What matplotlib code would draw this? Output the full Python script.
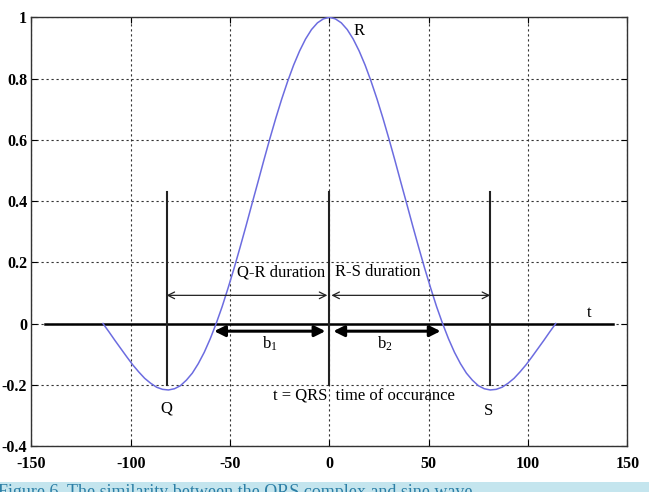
import matplotlib
matplotlib.use("Agg")
import matplotlib.pyplot as plt
from matplotlib.patches import Rectangle

plt.rcParams['font.family'] = ['Liberation Serif', 'DejaVu Serif']
plt.rcParams['mathtext.fontset'] = 'stix'
plt.rcParams['axes.unicode_minus'] = False

# QRS-like wave (right half, mirrored for the left)
t_half = [0, 3, 6, 9, 12, 15, 18, 21, 24, 27, 30, 33, 36, 39, 42, 45, 48, 51, 54,
          57, 60, 63, 66, 69, 72, 75, 78, 81, 84, 87, 90, 93, 96, 99, 102, 105,
          108, 111, 114]
amp_half = [1.0, 0.995, 0.982, 0.960, 0.929, 0.890, 0.844, 0.791, 0.733, 0.670,
            0.603, 0.533, 0.461, 0.390, 0.318, 0.248, 0.180, 0.116, 0.055, 0.0,
            -0.050, -0.094, -0.131, -0.162, -0.185, -0.203, -0.213, -0.217, -0.215,
            -0.208, -0.195, -0.179, -0.158, -0.135, -0.109, -0.082, -0.055, -0.027, 0.0]
t = [-v for v in t_half[:0:-1]] + t_half
amp = amp_half[:0:-1] + amp_half

q_t, r_t, s_t = -82, 0, 81
marker_top, marker_bottom = 0.43, -0.2
b1 = (-58, -2)
b2 = (2, 56)
t_axis = (-143, 143)

xticks = [-150, -100, -50, 0, 50, 100, 150]
yticks = [-0.4, -0.2, 0, 0.2, 0.4, 0.6, 0.8, 1]
ytick_labels = ['-0.4', '-0.2', '0', '0.2', '0.4', '0.6', '0.8', '1']

fig = plt.figure(figsize=(6.49, 4.92), dpi=100)
ax = fig.add_axes([0.0485, 0.0935, 0.918, 0.8713])

ax.grid(True, color='#333333', linestyle=(0, (2, 2.5)), linewidth=0.8)
ax.set_axisbelow(True)

# time axis
ax.plot(t_axis, [0, 0], color='black', lw=1.8, zorder=2)

# marker lines for Q, R, S
for pos in (q_t, r_t, s_t):
    ax.plot([pos, pos], [marker_bottom, marker_top], color='#222222', lw=1.5, zorder=2)

ax.plot(t, amp, color='#6c6ce0', lw=1.1, zorder=3)

# durations
thin = dict(arrowstyle='<->', lw=0.9, color='#222222', shrinkA=0, shrinkB=0, mutation_scale=12)
ax.annotate('', xy=(q_t, 0.092), xytext=(r_t - 1, 0.092), arrowprops=thin)
ax.annotate('', xy=(r_t + 1, 0.092), xytext=(s_t, 0.092), arrowprops=thin)

thick = dict(arrowstyle='<|-|>', lw=2.2, color='black', shrinkA=0, shrinkB=0, mutation_scale=16)
ax.annotate('', xy=(b1[0], -0.025), xytext=(b1[1], -0.025), arrowprops=thick)
ax.annotate('', xy=(b2[0], -0.025), xytext=(b2[1], -0.025), arrowprops=thick)

fs = 12
ax.text(15, 0.955, 'R', fontsize=fs, ha='center', va='center')
ax.text(q_t, -0.279, 'Q', fontsize=fs, ha='center', va='center')
ax.text(s_t - 1, -0.287, 'S', fontsize=fs, ha='center', va='center')
ax.text(131, 0.034, 't', fontsize=fs, ha='center', va='center')
ax.text(-24.5, 0.168, 'Q-R duration', fontsize=fs, ha='center', va='center')
ax.text(24.5, 0.168, 'R-S duration', fontsize=fs, ha='center', va='center')
ax.text(-30, -0.065, r'b$_\mathregular{1}$', fontsize=fs, ha='center', va='center')
ax.text(28, -0.066, r'b$_\mathregular{2}$', fontsize=fs, ha='center', va='center')
ax.text(-28.5, -0.238, 't = QRS  time of occurance', fontsize=fs, ha='left', va='center')

ax.set_xlim(-150, 150)
ax.set_ylim(-0.4, 1)
ax.set_xticks(xticks)
ax.set_yticks(yticks)
ax.set_yticklabels(ytick_labels)
ax.tick_params(direction='in', length=4, width=0.8, top=True, right=True,
               labelsize=11.5)
ax.tick_params(axis='x', pad=7)
ax.tick_params(axis='y', pad=3)
for lab in ax.get_xticklabels() + ax.get_yticklabels():
    lab.set_fontweight('bold')
for sp in ax.spines.values():
    sp.set_color('#333333')
    sp.set_linewidth(1.0)

# caption strip, cut off at the bottom edge as in the source
fig.patches.append(Rectangle((0, 0), 1, 10 / 492, transform=fig.transFigure,
                             facecolor='#c4e5ee', edgecolor='none', zorder=0))
fig.text(-0.003, 8 / 492, 'Figure 6. The similarity between the QRS complex and sine wave.',
         fontsize=13, color='#2c7fa6', ha='left', va='top')

fig.savefig('out.png', dpi=100)
